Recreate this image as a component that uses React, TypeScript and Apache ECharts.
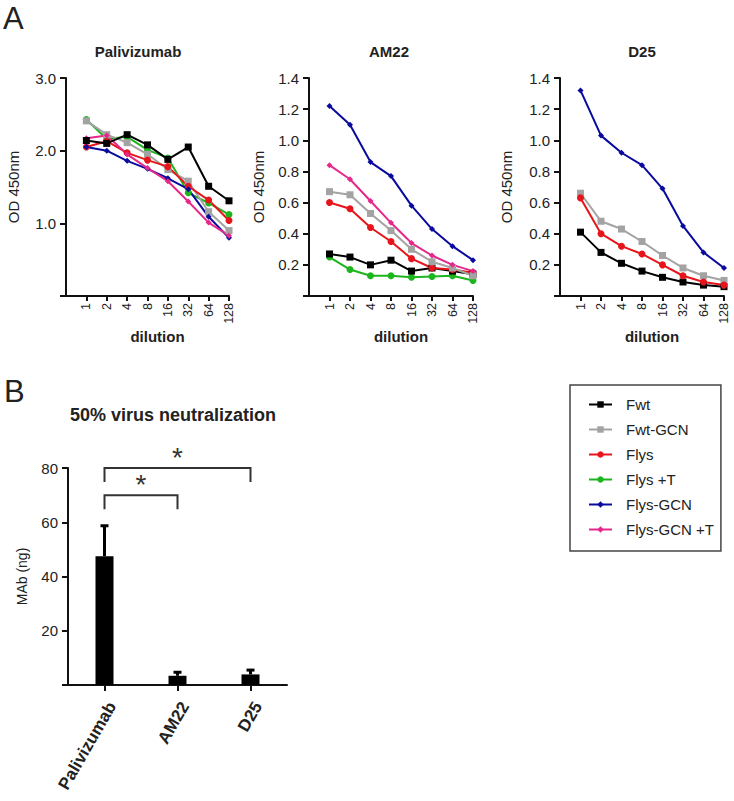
import React, { useEffect, useRef } from "react";
import * as echarts from "echarts";

const FONT = "'Liberation Sans', Arial, sans-serif";
const TXT = "#222";
const AX = "#111";

const dilutions = ["1", "2", "4", "8", "16", "32", "64", "128"];
const seriesNames = ["Fwt", "Fwt-GCN", "Flys", "Flys +T", "Flys-GCN", "Flys-GCN +T"];

// Panel A – Palivizumab
const paliFwt = [2.14, 2.1, 2.22, 2.08, 1.88, 2.05, 1.51, 1.31];
const paliFwtGCN = [2.41, 2.22, 2.11, 1.95, 1.74, 1.58, 1.16, 0.9];
const paliFlys = [2.05, 2.13, 1.97, 1.87, 1.78, 1.51, 1.32, 1.04];
const paliFlysT = [2.43, 2.16, 2.19, 2.01, 1.9, 1.42, 1.28, 1.12];
const paliFlysGCN = [2.05, 2.0, 1.86, 1.75, 1.62, 1.47, 1.09, 0.8];
const paliFlysGCNT = [2.17, 2.21, 1.95, 1.76, 1.58, 1.3, 1.01, 0.83];

// Panel A – AM22
const am22Fwt = [0.27, 0.25, 0.2, 0.23, 0.16, 0.18, 0.16, 0.14];
const am22FwtGCN = [0.67, 0.65, 0.53, 0.42, 0.3, 0.22, 0.18, 0.13];
const am22Flys = [0.6, 0.56, 0.44, 0.35, 0.24, 0.18, 0.17, 0.15];
const am22FlysT = [0.25, 0.17, 0.13, 0.13, 0.12, 0.125, 0.13, 0.1];
const am22FlysGCN = [1.22, 1.1, 0.86, 0.77, 0.58, 0.43, 0.32, 0.23];
const am22FlysGCNT = [0.84, 0.75, 0.61, 0.47, 0.34, 0.26, 0.2, 0.16];

// Panel A – D25
const d25Fwt = [0.41, 0.28, 0.21, 0.16, 0.12, 0.09, 0.07, 0.06];
const d25FwtGCN = [0.66, 0.48, 0.43, 0.35, 0.26, 0.18, 0.13, 0.1];
const d25Flys = [0.63, 0.4, 0.32, 0.27, 0.2, 0.13, 0.09, 0.07];
const d25FlysGCN = [1.32, 1.03, 0.92, 0.84, 0.69, 0.45, 0.28, 0.18];

// Panel B
const mabCategories = ["Palivizumab", "AM22", "D25"];
const mabMeans = [47.5, 3.4, 3.9];
const mabUpper = [58.7, 4.7, 5.5];
const sigPairs = [
  [0, 2],
  [0, 1],
];
const sigLevels = [80, 70];

const styles: Record<string, { color: string; symbol: string; size: number }> = {
  Fwt: { color: "#000000", symbol: "rect", size: 7 },
  "Fwt-GCN": { color: "#a3a3a3", symbol: "rect", size: 7 },
  Flys: { color: "#e8141b", symbol: "circle", size: 7 },
  "Flys +T": { color: "#1db51d", symbol: "circle", size: 7 },
  "Flys-GCN": { color: "#0a0a9e", symbol: "diamond", size: 6 },
  "Flys-GCN +T": { color: "#e5288b", symbol: "diamond", size: 6 },
};

const panels = [
  {
    max: 3,
    interval: 1,
    digits: 1,
    data: {
      "Flys +T": paliFlysT,
      "Fwt-GCN": paliFwtGCN,
      Flys: paliFlys,
      "Flys-GCN": paliFlysGCN,
      "Flys-GCN +T": paliFlysGCNT,
      Fwt: paliFwt,
    } as Record<string, number[]>,
  },
  {
    max: 1.4,
    interval: 0.2,
    digits: 1,
    data: {
      "Flys +T": am22FlysT,
      Fwt: am22Fwt,
      Flys: am22Flys,
      "Fwt-GCN": am22FwtGCN,
      "Flys-GCN +T": am22FlysGCNT,
      "Flys-GCN": am22FlysGCN,
    } as Record<string, number[]>,
  },
  {
    max: 1.4,
    interval: 0.2,
    digits: 1,
    data: {
      Fwt: d25Fwt,
      "Fwt-GCN": d25FwtGCN,
      Flys: d25Flys,
      "Flys-GCN": d25FlysGCN,
    } as Record<string, number[]>,
  },
];

const gridsPx = [
  { left: 66, top: 78, width: 163, height: 218 },
  { left: 309, top: 78, width: 164, height: 218 },
  { left: 560, top: 78, width: 164, height: 218 },
  { left: 68, top: 468, width: 219, height: 217 },
];
const yNameGaps = [45, 43, 46];

export default function App() {
  const ref = useRef<HTMLDivElement>(null);
  useEffect(() => {
    if (!ref.current) return;
    const chart = echarts.init(ref.current, null, { renderer: "svg" });

    const xAxes: any[] = [];
    const yAxes: any[] = [];
    const series: any[] = [];

    panels.forEach((p, gi) => {
      xAxes.push({
        gridIndex: gi,
        type: "value",
        min: 0,
        max: 8,
        interval: 1,
        axisLine: { show: true, onZero: false, lineStyle: { color: AX, width: 2 } },
        axisTick: {
          show: true,
          length: 5,
          customValues: [1, 2, 3, 4, 5, 6, 7, 8],
          lineStyle: { color: AX, width: 2 },
        },
        axisLabel: {
          rotate: 90,
          fontSize: 12.5,
          color: TXT,
          fontFamily: FONT,
          margin: 7,
          customValues: [1, 2, 3, 4, 5, 6, 7, 8],
          formatter: (v: number) => dilutions[v - 1] ?? "",
        },
        splitLine: { show: false },
        name: "dilution",
        nameLocation: "middle",
        nameGap: 33,
        nameTextStyle: {
          fontSize: 15,
          fontWeight: "bold",
          color: TXT,
          fontFamily: FONT,
          padding: [0, 0, 0, 20],
        },
      });
      yAxes.push({
        gridIndex: gi,
        type: "value",
        min: 0,
        max: p.max,
        interval: p.interval,
        axisLine: { show: true, lineStyle: { color: AX, width: 2 } },
        axisTick: { show: true, length: 6, lineStyle: { color: AX, width: 2 } },
        axisLabel: {
          fontSize: 15,
          color: TXT,
          fontFamily: FONT,
          margin: 10,
          formatter: (v: number) => (v === 0 ? "" : v.toFixed(p.digits)),
        },
        splitLine: { show: false },
        name: "OD 450nm",
        nameLocation: "middle",
        nameGap: yNameGaps[gi],
        nameTextStyle: { fontSize: 15, color: TXT, fontFamily: FONT },
      });
      Object.keys(p.data).forEach((name) => {
        const st = styles[name];
        series.push({
          type: "line",
          name,
          xAxisIndex: gi,
          yAxisIndex: gi,
          data: p.data[name].map((v, i) => [i + 1, v]),
          symbol: st.symbol,
          symbolSize: st.size,
          showSymbol: true,
          lineStyle: { color: st.color, width: 2 },
          itemStyle: { color: st.color },
        });
      });
    });

    // Panel B axes
    xAxes.push({
      gridIndex: 3,
      type: "category",
      data: mabCategories,
      axisLine: { show: true, lineStyle: { color: AX, width: 2 } },
      axisTick: { show: true, alignWithLabel: true, length: 6, lineStyle: { color: AX, width: 2 } },
      axisLabel: {
        rotate: 60,
        fontSize: 17,
        fontWeight: "bold",
        color: TXT,
        fontFamily: FONT,
        margin: 14,
        verticalAlign: "top",
      },
    });
    yAxes.push({
      gridIndex: 3,
      type: "value",
      min: 0,
      max: 80,
      interval: 20,
      axisLine: { show: true, lineStyle: { color: AX, width: 2 } },
      axisTick: { show: true, length: 6, lineStyle: { color: AX, width: 2 } },
      axisLabel: {
        fontSize: 15,
        color: TXT,
        fontFamily: FONT,
        margin: 10,
        formatter: (v: number) => (v === 0 ? "" : String(v)),
      },
      splitLine: { show: false },
      name: "MAb (ng)",
      nameLocation: "middle",
      nameGap: 39,
      nameTextStyle: { fontSize: 14, color: TXT, fontFamily: FONT },
    });

    series.push({
      type: "bar",
      xAxisIndex: 3,
      yAxisIndex: 3,
      data: mabMeans,
      barWidth: 18,
      itemStyle: { color: "#000" },
      z: 3,
    });
    series.push({
      type: "custom",
      xAxisIndex: 3,
      yAxisIndex: 3,
      data: mabCategories.map((_, i) => [i, mabMeans[i], mabUpper[i]]),
      encode: { x: 0, y: [1, 2] },
      z: 2,
      renderItem: (params: any, api: any) => {
        const p0 = api.coord([api.value(0), api.value(1)]);
        const p1 = api.coord([api.value(0), api.value(2)]);
        return {
          type: "group",
          children: [
            {
              type: "line",
              shape: { x1: p0[0], y1: p0[1], x2: p1[0], y2: p1[1] },
              style: { stroke: "#000", lineWidth: 3 },
            },
            {
              type: "line",
              shape: { x1: p1[0] - 4, y1: p1[1], x2: p1[0] + 4, y2: p1[1] },
              style: { stroke: "#000", lineWidth: 3 },
            },
          ],
        };
      },
    });
    series.push({
      type: "custom",
      xAxisIndex: 3,
      yAxisIndex: 3,
      clip: false,
      data: sigPairs.map((pr, i) => [pr[0], pr[1], sigLevels[i]]),
      encode: { x: [0, 1], y: 2 },
      renderItem: (params: any, api: any) => {
        const a = api.coord([api.value(0), api.value(2)]);
        const b = api.coord([api.value(1), api.value(2)]);
        const leg = 14;
        return {
          type: "group",
          children: [
            {
              type: "polyline",
              shape: {
                points: [
                  [a[0], a[1] + leg],
                  [a[0], a[1]],
                  [b[0], b[1]],
                  [b[0], b[1] + leg],
                ],
              },
              style: { stroke: "#333", lineWidth: 2, fill: null },
            },
            {
              type: "text",
              x: (a[0] + b[0]) / 2,
              y: a[1] - 11,
              style: {
                text: "*",
                fontSize: 28,
                fontFamily: FONT,
                fill: "#333",
                align: "center",
                verticalAlign: "middle",
              },
            },
          ],
        };
      },
    });

    const option: any = {
      animation: false,
      backgroundColor: "#fff",
      textStyle: { fontFamily: FONT },
      grid: gridsPx.map((g) => ({ ...g, containLabel: false })),
      xAxis: xAxes,
      yAxis: yAxes,
      series,
      legend: {
        orient: "vertical",
        left: 570,
        top: 385,
        data: seriesNames,
        itemWidth: 23,
        itemHeight: 8,
        itemGap: 10,
        padding: [12, 7, 14, 18],
        borderColor: "#444",
        borderWidth: 1.5,
        backgroundColor: "#fff",
        selectedMode: false,
        textStyle: { fontSize: 15, color: TXT, fontFamily: FONT, padding: [0, 0, 0, 9] },
      },
      graphic: [
        { type: "text", x: 3, y: 18, style: { text: "A", fontSize: 31, fontFamily: FONT, fill: TXT, verticalAlign: "middle" } },
        { type: "text", x: 4, y: 391, style: { text: "B", fontSize: 31, fontFamily: FONT, fill: TXT, verticalAlign: "middle" } },
        { type: "text", x: 138, y: 51, style: { text: "Palivizumab", fontSize: 15, fontWeight: "bold", fontFamily: FONT, fill: TXT, align: "center", verticalAlign: "middle" } },
        { type: "text", x: 389, y: 51, style: { text: "AM22", fontSize: 15, fontWeight: "bold", fontFamily: FONT, fill: TXT, align: "center", verticalAlign: "middle" } },
        { type: "text", x: 642, y: 51, style: { text: "D25", fontSize: 15, fontWeight: "bold", fontFamily: FONT, fill: TXT, align: "center", verticalAlign: "middle" } },
        { type: "text", x: 173, y: 415, style: { text: "50% virus neutralization", fontSize: 18, fontWeight: "bold", fontFamily: FONT, fill: TXT, align: "center", verticalAlign: "middle" } },
      ],
    };
    chart.setOption(option);
    return () => chart.dispose();
  }, []);

  return (
    <div
      ref={ref}
      style={{ position: "absolute", left: 0, top: 0, width: 734, height: 801, background: "#fff" }}
    />
  );
}
